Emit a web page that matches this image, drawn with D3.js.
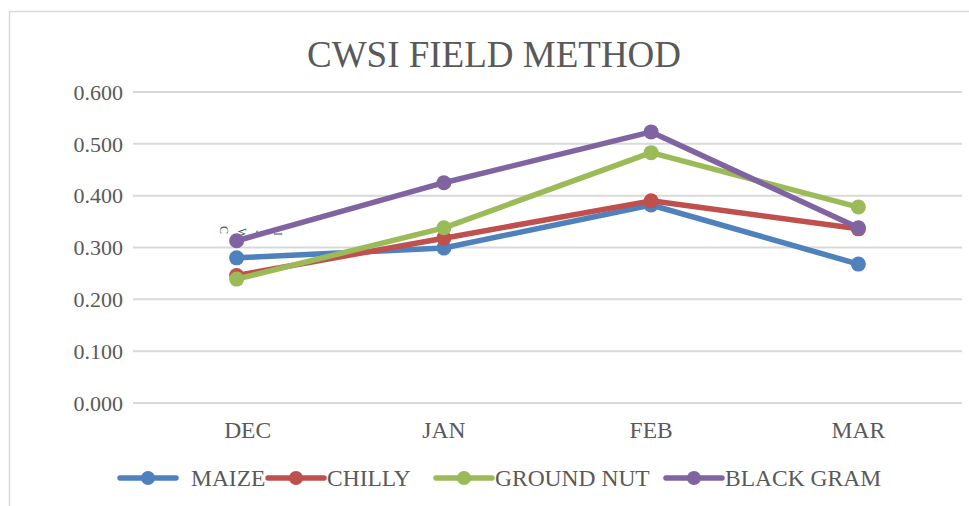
<!DOCTYPE html>
<html>
<head>
<meta charset="utf-8">
<script src="https://cdn.jsdelivr.net/npm/d3@7"></script>
<style>
  html, body { margin: 0; padding: 0; background: #fff; }
  svg { display: block; }
  text { font-family: "Liberation Serif", "Times New Roman", serif; fill: #595959; }
</style>
</head>
<body>
<svg id="chart" width="969" height="506"></svg>
<script>
const months = ['DEC', 'JAN', 'FEB', 'MAR'];
const seriesNames = ['MAIZE', 'CHILLY', 'GROUND NUT', 'BLACK GRAM'];
const maize = [0.280, 0.299, 0.382, 0.268];
const chilly = [0.246, 0.318, 0.390, 0.336];
const groundNut = [0.239, 0.338, 0.483, 0.378];
const blackGram = [0.313, 0.425, 0.523, 0.338];
const yTicks = [0, 0.1, 0.2, 0.3, 0.4, 0.5, 0.6];
const colors = ['#4F81BD', '#C0504D', '#9BBB59', '#8064A2'];
const legendX = [120, 268, 436, 666];

const series = [maize, chilly, groundNut, blackGram].map((v, i) => ({
  name: seriesNames[i], values: v, color: colors[i]
}));

const svg = d3.select('#chart');

// chart border
svg.append('path')
  .attr('d', 'M9.5,506 V11.5 H969')
  .attr('fill', 'none')
  .attr('stroke', '#D9D9D9')
  .attr('stroke-width', 1.5);

const x = d3.scaleBand().domain(months).range([133, 962]);
const y = d3.scaleLinear().domain([0, 0.6]).range([403, 92]);

// gridlines
svg.append('g').selectAll('line')
  .data(yTicks)
  .join('line')
  .attr('x1', 133).attr('x2', 962)
  .attr('y1', d => y(d)).attr('y2', d => y(d))
  .attr('stroke', '#D9D9D9')
  .attr('stroke-width', 2);

// y tick labels
svg.append('g').selectAll('text')
  .data(yTicks)
  .join('text')
  .attr('x', 123)
  .attr('y', d => y(d))
  .attr('dy', '0.35em')
  .attr('text-anchor', 'end')
  .attr('font-size', 22)
  .text(d => d3.format('.3f')(d));

// x labels (the first one sits a little right in the original)
svg.append('g').selectAll('text')
  .data(months)
  .join('text')
  .attr('x', (d, i) => x(d) + x.bandwidth() / 2 + (i === 0 ? 11 : 0))
  .attr('y', 438)
  .attr('text-anchor', 'middle')
  .attr('font-size', 23.5)
  .text(d => d);

// title
svg.append('text')
  .attr('x', 494)
  .attr('y', 67)
  .attr('text-anchor', 'middle')
  .attr('font-size', 37)
  .text('CWSI FIELD METHOD');

// stray rotated axis title letters
svg.append('g').selectAll('text')
  .data('CWSI'.split(''))
  .join('text')
  .attr('transform', (d, i) => `translate(${220 + i * 18},${226 + i * 2}) rotate(90)`)
  .attr('font-size', 12)
  .text(d => d);

const cx = d => x(d) + x.bandwidth() / 2;
const line = d3.line()
  .x((d, i) => cx(months[i]))
  .y(d => y(d));

const g = svg.append('g');
series.forEach(s => {
  const sg = g.append('g');
  sg.append('path')
    .attr('d', line(s.values))
    .attr('fill', 'none')
    .attr('stroke', s.color)
    .attr('stroke-width', 5.5)
    .attr('stroke-linejoin', 'round')
    .attr('stroke-linecap', 'round');
  sg.selectAll('circle')
    .data(s.values)
    .join('circle')
    .attr('cx', (d, i) => cx(months[i]))
    .attr('cy', d => y(d))
    .attr('r', 7.5)
    .attr('fill', s.color);
});

// legend
const legend = svg.append('g').selectAll('g')
  .data(series)
  .join('g')
  .attr('transform', (d, i) => `translate(${legendX[i]},478)`);
legend.append('line')
  .attr('x1', 0).attr('x2', 56)
  .attr('stroke', d => d.color)
  .attr('stroke-width', 5.5)
  .attr('stroke-linecap', 'round');
legend.append('circle')
  .attr('cx', 28)
  .attr('r', 7)
  .attr('fill', d => d.color);
legend.append('text')
  .attr('x', (d, i) => i === 0 ? 71 : 59)
  .attr('dy', '0.35em')
  .attr('font-size', 23.5)
  .text(d => d.name);
</script>
</body>
</html>
